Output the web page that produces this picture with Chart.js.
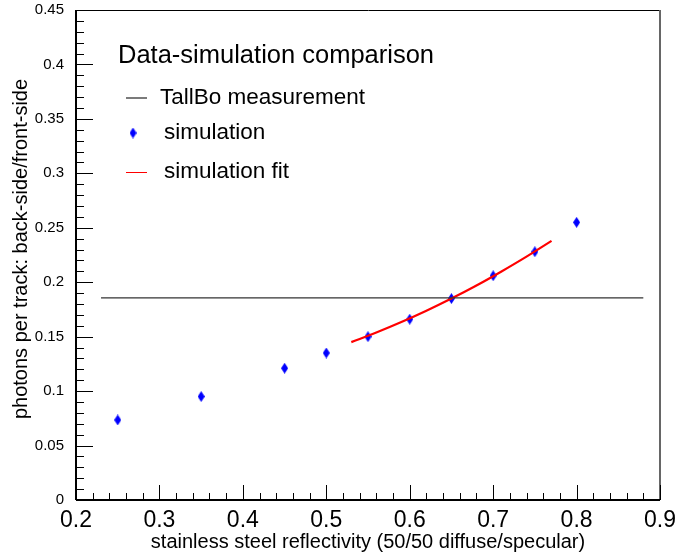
<!DOCTYPE html>
<html>
<head>
<meta charset="utf-8">
<script src="https://cdn.jsdelivr.net/npm/chart.js@4.4.0/dist/chart.umd.min.js"></script>
<style>
html,body{margin:0;padding:0;background:#fff;}
#wrap{width:675px;height:557px;}
</style>
</head>
<body>
<div id="wrap"><canvas id="c" width="675" height="557"></canvas></div>
<script>
// ---- data ----
const simX = [0.25, 0.35, 0.45, 0.50, 0.55, 0.60, 0.65, 0.70, 0.75, 0.80];
const simY = [0.0735, 0.095, 0.121, 0.135, 0.150, 0.166, 0.185, 0.206, 0.228, 0.255];
const fitX = [0.53, 0.56, 0.59, 0.62, 0.65, 0.68, 0.71, 0.74, 0.77];
const fitY = [0.145, 0.1538, 0.1634, 0.1738, 0.185, 0.197, 0.2099, 0.2235, 0.238];
const measX = [0.23, 0.88];
const measY = [0.1857, 0.1857];
const legendTitle = "Data-simulation comparison";
const legendLabels = ["TallBo measurement", "simulation", "simulation fit"];
const xTitle = "stainless steel reflectivity (50/50 diffuse/specular)";
const yTitle = "photons per track: back-side/front-side";

const FONT = "'Liberation Sans', Arial, Helvetica, sans-serif";

// diamond marker
function makeDiamond(w, h, color) {
  const cv = document.createElement('canvas');
  cv.width = w; cv.height = h;
  const g = cv.getContext('2d');
  g.fillStyle = color;
  g.beginPath();
  g.moveTo(w / 2, 0); g.lineTo(w, h / 2); g.lineTo(w / 2, h); g.lineTo(0, h / 2);
  g.closePath(); g.fill();
  return cv;
}
const diamond = makeDiamond(7, 11, '#0000ff');

const xy = (xs, ys) => xs.map((x, i) => ({x: x, y: ys[i]}));

const framePlugin = {
  id: 'frame',
  afterDraw(chart) {
    const ctx = chart.ctx;
    const a = chart.chartArea;
    const xs = chart.scales.x, ys = chart.scales.y;
    ctx.save();
    // frame
    ctx.lineWidth = 1;
    ctx.strokeStyle = '#000';
    ctx.beginPath();
    ctx.moveTo(a.left + 0.5, a.top + 0.5); ctx.lineTo(a.right + 0.5, a.top + 0.5);
    ctx.stroke();
    ctx.strokeStyle = '#666';
    ctx.lineWidth = 2;
    ctx.beginPath();
    ctx.moveTo(a.right, a.top); ctx.lineTo(a.right, a.bottom);
    ctx.stroke();
    ctx.strokeStyle = '#000';
    ctx.lineWidth = 2;
    ctx.beginPath();
    ctx.moveTo(a.left, a.top); ctx.lineTo(a.left, a.bottom);
    ctx.moveTo(a.left, a.bottom); ctx.lineTo(a.right, a.bottom);
    ctx.stroke();
    // ticks
    ctx.lineWidth = 1;
    ctx.strokeStyle = '#000';
    ctx.beginPath();
    for (let i = 0; i <= 45; i++) {
      const v = i / 100;
      const py = Math.round(ys.getPixelForValue(v)) + 0.5;
      const len = (i % 5 === 0) ? 17 : 8;
      ctx.moveTo(a.left, py); ctx.lineTo(a.left + len, py);
    }
    for (let i = 0; i <= 35; i++) {
      const v = 0.2 + i * 0.02;
      const px = Math.round(xs.getPixelForValue(v)) + 0.5;
      const len = (i % 5 === 0) ? 15 : 7;
      ctx.moveTo(px, a.bottom); ctx.lineTo(px, a.bottom - len);
    }
    ctx.stroke();
    // axis titles
    ctx.fillStyle = '#000';
    ctx.font = '20px ' + FONT;
    ctx.textAlign = 'center';
    ctx.textBaseline = 'middle';
    ctx.fillText(xTitle, 368, 542);
    ctx.save();
    ctx.translate(21, 249);
    ctx.rotate(-Math.PI / 2);
    ctx.fillText(yTitle, 0, 0);
    ctx.restore();
    // legend
    ctx.textAlign = 'left';
    ctx.font = '25.5px ' + FONT;
    ctx.fillText(legendTitle, 118, 56);
    ctx.font = '22.5px ' + FONT;
    ctx.fillText(legendLabels[0], 160, 98);
    ctx.fillText(legendLabels[1], 164, 133);
    ctx.fillText(legendLabels[2], 164, 172);
    ctx.lineWidth = 1.3;
    ctx.strokeStyle = '#333';
    ctx.beginPath(); ctx.moveTo(126, 98); ctx.lineTo(147, 98); ctx.stroke();
    ctx.strokeStyle = '#ff0000';
    ctx.lineWidth = 1;
    ctx.beginPath(); ctx.moveTo(126, 172.5); ctx.lineTo(147, 172.5); ctx.stroke();
    ctx.drawImage(diamond, 133 - 3.5, 133 - 5.5);
    ctx.restore();
  }
};

new Chart(document.getElementById('c'), {
  type: 'scatter',
  data: {
    datasets: [
      {label: legendLabels[0], data: xy(measX, measY), showLine: true, borderColor: '#333', borderWidth: 1.3, pointRadius: 0, fill: false},
      {label: legendLabels[2], data: xy(fitX, fitY), showLine: true, borderColor: '#ff0000', borderWidth: 2.2, pointRadius: 0, tension: 0.4, cubicInterpolationMode: 'monotone', fill: false},
      {label: legendLabels[1], data: xy(simX, simY), showLine: false, pointStyle: diamond, pointRadius: 5, backgroundColor: '#0000ff', borderColor: '#0000ff'}
    ]
  },
  options: {
    responsive: false,
    animation: false,
    devicePixelRatio: 1,
    layout: {padding: {top: 10, right: 15, left: 0, bottom: 0}},
    plugins: {legend: {display: false}, tooltip: {enabled: false}},
    scales: {
      x: {
        type: 'linear', min: 0.2, max: 0.9,
        grid: {display: false}, border: {display: false},
        afterFit(s) { s.height = 57; s.paddingLeft = 0; s.paddingRight = 0; },
        ticks: {stepSize: 0.1, padding: 1, color: '#000', font: {family: FONT, size: 23, lineHeight: 1}, maxRotation: 0,
          callback: v => String(+v.toFixed(2))}
      },
      y: {
        type: 'linear', min: 0, max: 0.45,
        grid: {display: false}, border: {display: false},
        afterFit(s) { s.width = 76; s.paddingTop = 0; s.paddingBottom = 0; },
        ticks: {stepSize: 0.05, padding: 4, color: '#000', font: {family: FONT, size: 15},
          callback: v => String(+v.toFixed(2))}
      }
    }
  },
  plugins: [framePlugin]
});
</script>
</body>
</html>
